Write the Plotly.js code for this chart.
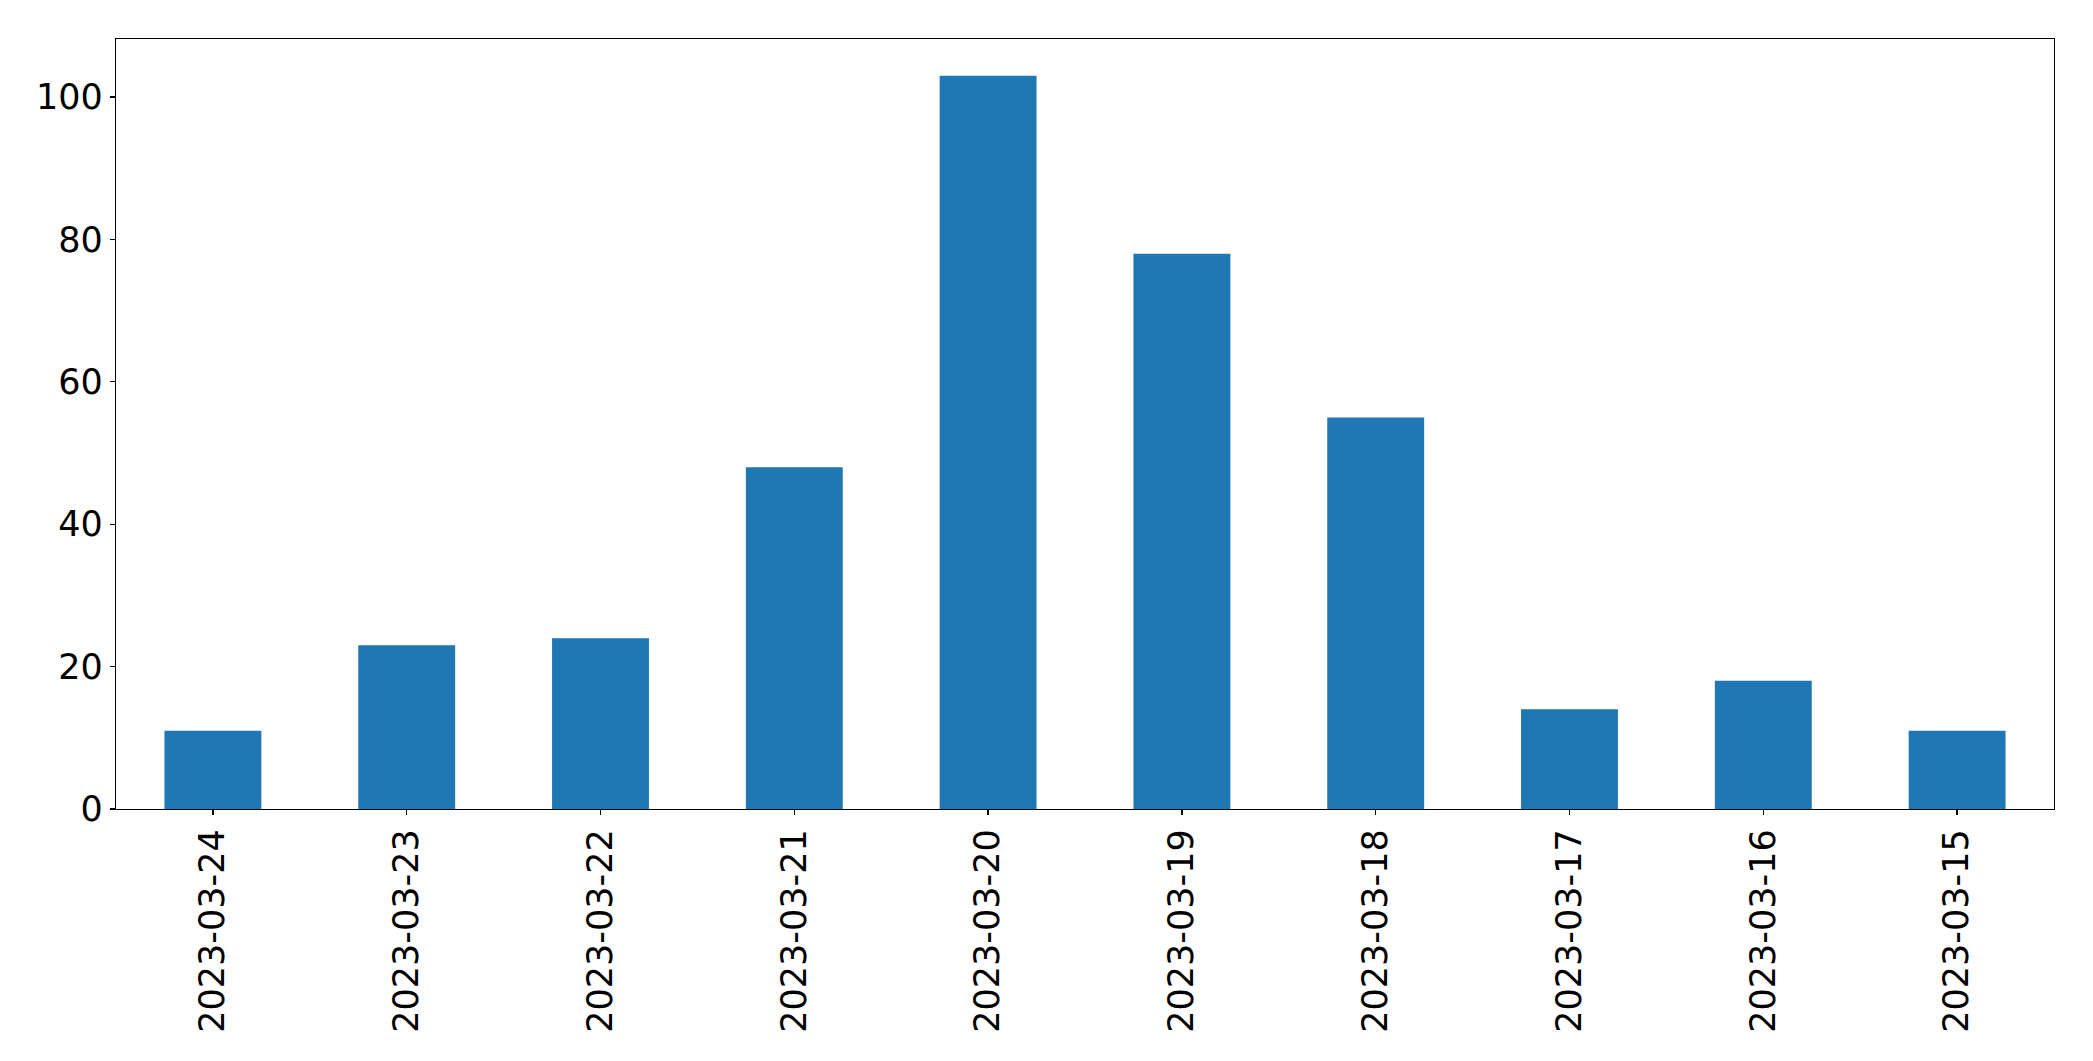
<!DOCTYPE html>
<html>
<head>
<meta charset="utf-8">
<script src="https://cdn.plot.ly/plotly-3.0.1.min.js"></script>
<style>html,body{margin:0;padding:0;background:#fff;}#chart{width:2093px;height:1061px;}</style>
</head>
<body>
<div id="chart"></div>
<script>
var dates = ["2023-03-24","2023-03-23","2023-03-22","2023-03-21","2023-03-20","2023-03-19","2023-03-18","2023-03-17","2023-03-16","2023-03-15"];
var counts = [11, 23, 24, 48, 103, 78, 55, 14, 18, 11];
var yTicks = [0, 20, 40, 60, 80, 100];

var trace = {
  type: 'bar',
  x: dates,
  y: counts,
  width: 0.5,
  marker: {color: '#1f77b4', line: {width: 0}},
  hoverinfo: 'x+y'
};

var layout = {
  width: 2093,
  height: 1061,
  margin: {l: 116, r: 39, t: 39, b: 252, pad: 0},
  paper_bgcolor: '#fff',
  plot_bgcolor: '#fff',
  showlegend: false,
  font: {family: 'DejaVu Sans', size: 35, color: '#000'},
  bargap: 0.5,
  xaxis: {
    type: 'category',
    range: [-0.5, 9.5],
    tickangle: -90,
    ticks: 'outside',
    ticklen: 5,
    tickwidth: 1.3,
    tickcolor: '#000',
    showline: true,
    linecolor: '#000',
    linewidth: 1.3,
    mirror: true,
    showgrid: false,
    zeroline: false,
    tickfont: {family: 'DejaVu Sans', size: 35, color: '#000'}
  },
  yaxis: {
    range: [0, 108.15],
    tickvals: yTicks,
    ticktext: yTicks.map(String),
    ticks: 'outside',
    ticklen: 5,
    tickwidth: 1.3,
    tickcolor: '#000',
    showline: true,
    linecolor: '#000',
    linewidth: 1.3,
    mirror: true,
    showgrid: false,
    zeroline: false,
    tickfont: {family: 'DejaVu Sans', size: 35, color: '#000'}
  }
};

Plotly.newPlot('chart', [trace], layout, {displayModeBar: false, staticPlot: true});
</script>
</body>
</html>
